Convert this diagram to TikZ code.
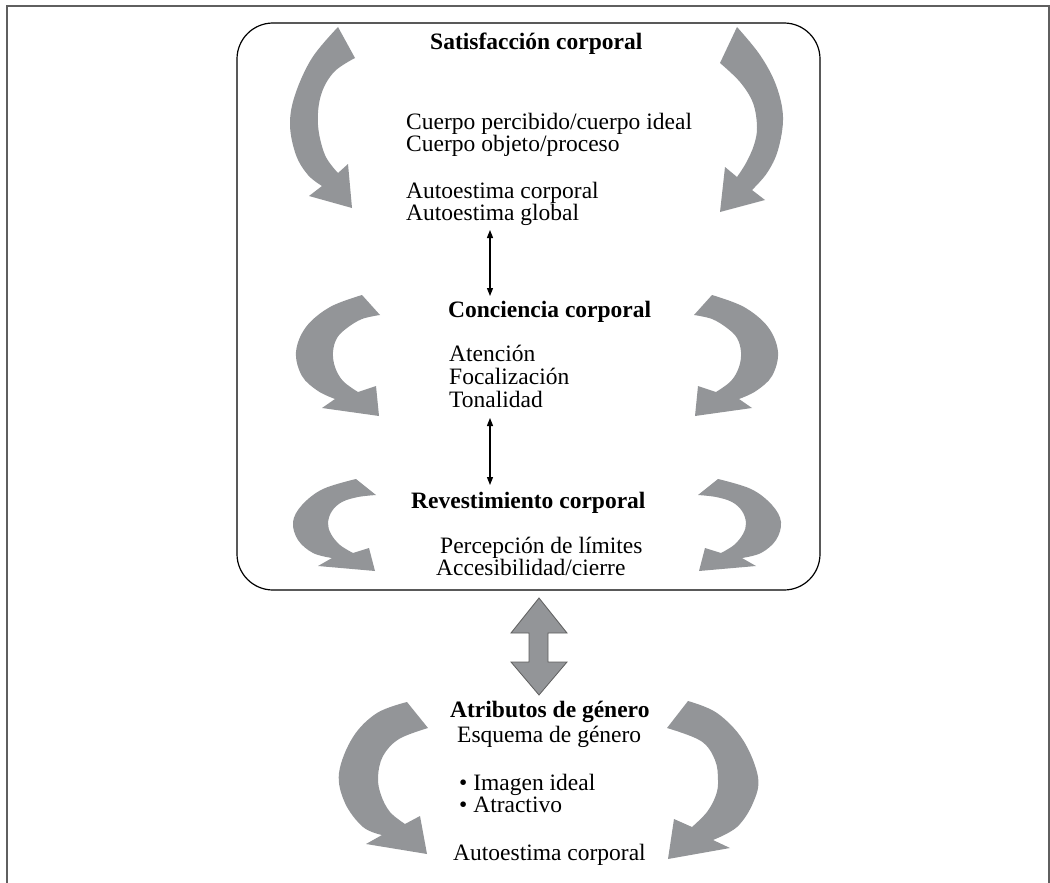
\documentclass[tikz,border=0pt]{standalone}
\usepackage{fontspec}
\setmainfont{Liberation Serif}
\usetikzlibrary{arrows.meta}
\definecolor{agray}{RGB}{147,149,152}
\definecolor{framegray}{RGB}{95,95,95}
\tikzset{
  garrow/.style={fill=agray},
  lbl/.style={anchor=base west, inner sep=0pt, font=\fontsize{23.5}{24}\selectfont},
  hdr/.style={lbl, font=\fontsize{23.5}{24}\selectfont\bfseries},
  thin arrow/.style={line width=1.2pt, {Triangle[length=8pt,width=6pt]}-{Triangle[length=8pt,width=6pt]}},
}
\begin{document}
\begin{tikzpicture}[x=1pt,y=-1pt]
\useasboundingbox (0,0) rectangle (1050,883);
% outer frame
\draw[framegray, line width=2pt] (6.5,884) -- (6.5,6.5) -- (1048.5,6.5) -- (1048.5,884);
% rounded box
\draw[line width=1.2pt, rounded corners=36pt] (237,23) rectangle (820,590);

% curved arrows
% A top-left
\fill[garrow] plot[smooth, tension=0.6] coordinates {(338,27) (312,58) (295,95) (290,125) (296,155) (308,175) (322,186)}
  -- (309,196) -- (352,208) -- (348,164) --
  plot[smooth, tension=0.6] coordinates {(338,173) (325,155) (318,125) (321,95) (334,72) (355,58)} -- cycle;
% B top-right
\fill[garrow] plot[smooth, tension=0.6] coordinates {(737,27) (760,55) (776,85) (783,117) (778,150) (767,173) (752,190)}
  -- (765,200) -- (720,212) -- (725,167) --
  plot[smooth, tension=0.6] coordinates {(737,177) (746,163) (754,145) (757,127) (753,103) (740,82) (720,63)} -- cycle;
% C middle-left
\fill[garrow] plot[smooth, tension=0.6] coordinates {(362,295) (330,307) (306,327) (296,352) (302,376) (318,391) (335,399)}
  -- (322,408) -- (379,416) -- (376,386) --
  plot[smooth, tension=0.6] coordinates {(358,392) (343,381) (335,367) (333,352) (337,338) (347,328) (362,319) (380,315)} -- cycle;
% D middle-right (mirror)
\fill[garrow] plot[smooth, tension=0.6] coordinates {(712,295) (744,307) (768,327) (778,352) (772,376) (756,391) (739,399)}
  -- (752,408) -- (695,416) -- (698,386) --
  plot[smooth, tension=0.6] coordinates {(716,392) (731,381) (739,367) (741,352) (737,338) (727,328) (712,319) (694,315)} -- cycle;
% E lower-left
\fill[garrow] plot[smooth, tension=0.6] coordinates {(356,479) (323,489) (302,505) (293,522) (298,540) (313,553) (332,558)}
  -- (318,566) -- (375,571) -- (369,548) --
  plot[smooth, tension=0.6] coordinates {(353,553) (340,545) (331,534) (328,523) (332,511) (342,502) (358,497) (376,495)} -- cycle;
% F lower-right (mirror)
\fill[garrow] plot[smooth, tension=0.6] coordinates {(718,479) (751,489) (772,505) (781,522) (776,540) (761,553) (742,558)}
  -- (756,566) -- (699,571) -- (705,548) --
  plot[smooth, tension=0.6] coordinates {(721,553) (734,545) (743,534) (746,523) (742,511) (732,502) (716,497) (698,495)} -- cycle;
% G bottom-left
\fill[garrow] plot[smooth, tension=0.6] coordinates {(407,702) (377,713) (353,737) (339,773) (345,803) (363,827) (382,835)}
  -- (366,844) -- (427,854) -- (420,816) --
  plot[smooth, tension=0.6] coordinates {(405,824) (390,812) (381,795) (378,777) (383,756) (399,739) (428,728)} -- cycle;
% H bottom-right
\fill[garrow] plot[smooth, tension=0.6] coordinates {(688,701) (717,713) (743,740) (758,777) (753,803) (737,827) (713,840)}
  -- (730,848) -- (668,859) -- (674,819) --
  plot[smooth, tension=0.6] coordinates {(692,827) (707,812) (716,795) (718,780) (715,760) (701,741) (667,728)} -- cycle;

% big double arrow
\filldraw[fill=agray, draw=framegray, line width=0.8pt]
  (539,598) -- (567,633) -- (548,633) -- (548,662) -- (567,662) -- (539,695)
  -- (511,662) -- (529,662) -- (529,633) -- (511,633) -- cycle;

% texts
\node[hdr] (sat) at (430,50) {Satisfacción corporal};
\node[lbl] (cp1) at (406,129) {Cuerpo percibido/cuerpo ideal};
\node[lbl] (cp2) at (406,151) {Cuerpo objeto/proceso};
\node[lbl] (ae1) at (406,198) {Autoestima corporal};
\node[lbl] (ae2) at (406,220) {Autoestima global};
\node[hdr] (con) at (448,317) {Conciencia corporal};
\node[lbl] (at1) at (449,361) {Atención};
\node[lbl] (at2) at (449,384) {Focalización};
\node[lbl] (at3) at (449,407) {Tonalidad};
\node[hdr] (rev) at (411,508) {Revestimiento corporal};
\node[lbl] (pl1) at (440,553) {Percepción de límites};
\node[lbl] (pl2) at (436,575) {Accesibilidad/cierre};
\node[hdr] (gen) at (450,717) {Atributos de género};
\node[lbl] (esq) at (457,742) {Esquema de género};
\node[lbl] (im1) at (459,790) {• Imagen ideal};
\node[lbl] (im2) at (459,812) {• Atractivo};
\node[lbl] (ae3) at (453,860) {Autoestima corporal};

% thin double arrows
\coordinate (t1a) at (490,230);
\coordinate (t1b) at (490,296);
\coordinate (t2a) at (490,418);
\coordinate (t2b) at (490,485);
\draw[thin arrow] (t1a) -- (t1b);
\draw[thin arrow] (t2a) -- (t2b);
\end{tikzpicture}
\end{document}
